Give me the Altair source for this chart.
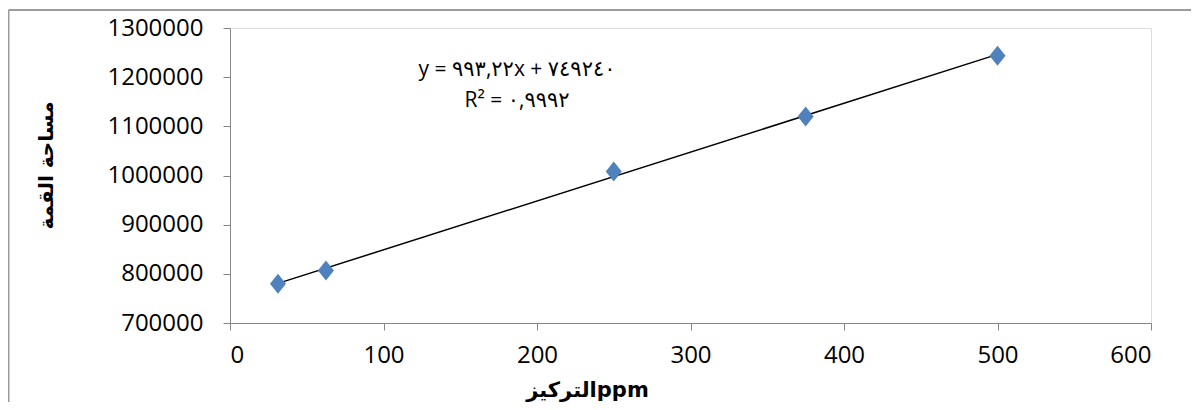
import altair as alt
import pandas as pd

conc = [31.25, 62.5, 250, 375, 500]
area = [780000, 807000, 1008000, 1120000, 1243500]

eq_lines = ["y = ٩٩٣,٢٢x + ٧٤٩٢٤٠", "R² = ٠,٩٩٩٢"]
eq_x = [187, 187]
eq_y = [1214000, 1151000]

x_title = "التركيزppm"
y_title = "مساحة القمة"

x_ticks = [0, 100, 200, 300, 400, 500, 600]
y_ticks = [700000, 800000, 900000, 1000000, 1100000, 1200000, 1300000]

df = pd.DataFrame({"conc": conc, "area": area})
eq_df = pd.DataFrame({"t": eq_lines, "x": eq_x, "y": eq_y})

xs = alt.Scale(domain=[0, 600], nice=False)
ys = alt.Scale(domain=[700000, 1300000], nice=False, zero=False)

AX = dict(domainColor="#868686", tickColor="#868686", tickSize=7, grid=False,
          labelFont="Open Sans", labelFontSize=24, labelColor="black",
          titleFont="DejaVu Sans", titleFontWeight="bold", titleColor="black")

x_enc = alt.X("conc:Q", scale=xs,
              axis=alt.Axis(values=x_ticks, title=x_title, titleFontSize=21,
                            labelPadding=13, titleX=357, titleY=56,
                            titleBaseline="top", titleAlign="center", **AX))
y_enc = alt.Y("area:Q", scale=ys,
              axis=alt.Axis(values=y_ticks, format="d", title=y_title, titleFontSize=20,
                            labelPadding=20, titleX=-184, titleY=137, titleAlign="center",
                            titleBaseline="middle", **AX))

diamond = "M0,-1.25L1,0L0,1.25L-1,0Z"

points = alt.Chart(df).mark_point(shape=diamond, filled=True, size=256,
                                  color="#4F81BD", opacity=1).encode(x=x_enc, y=y_enc)

trend = alt.Chart(df).transform_regression("conc", "area").mark_line(
    color="black", strokeWidth=1.5).encode(x=alt.X("conc:Q", scale=xs), y=alt.Y("area:Q", scale=ys))

eq = alt.Chart(eq_df).mark_text(font="Open Sans, DejaVu Sans", fontSize=21, color="black",
                                align="center", baseline="middle").encode(
    x=alt.X("x:Q", scale=xs), y=alt.Y("y:Q", scale=ys), text="t:N")

one = pd.DataFrame({"a": [0]})
border_top = alt.Chart(one).mark_rule(stroke="#9b9b9b", strokeWidth=2).encode(
    x=alt.value(-221.5), x2=alt.value(1000), y=alt.value(-18))
border_left = alt.Chart(one).mark_rule(stroke="#9b9b9b", strokeWidth=2).encode(
    x=alt.value(-221.5), y=alt.value(-18), y2=alt.value(420))

chart = alt.layer(border_top, border_left, trend, points, eq).properties(
    width=921, height=295,
    autosize=alt.AutoSizeParams(type="none"),
    padding={"left": 222, "top": 20, "right": 40, "bottom": 79},
).configure_view(stroke=None).configure(background="white")

chart.save("out.html", embed_options={"renderer": "svg", "actions": False})
